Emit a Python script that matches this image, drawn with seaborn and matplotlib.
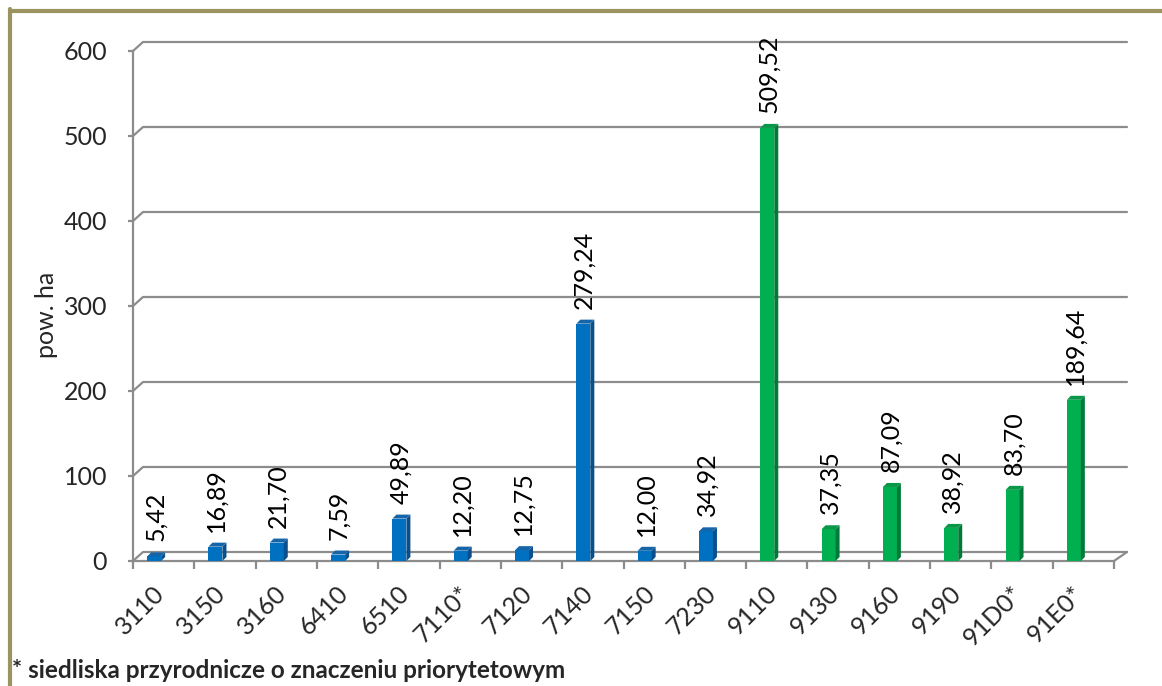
import pandas as pd
import seaborn as sns
import matplotlib.pyplot as plt
from matplotlib.patches import Polygon
from matplotlib.lines import Line2D
from matplotlib.transforms import IdentityTransform, ScaledTranslation

# --- data ---
codes = ["3110", "3150", "3160", "6410", "6510", "7110*", "7120", "7140",
         "7150", "7230", "9110", "9130", "9160", "9190", "91D0*", "91E0*"]
areas = [5.42, 16.89, 21.70, 7.59, 49.89, 12.20, 12.75, 279.24,
         12.00, 34.92, 509.52, 37.35, 87.09, 38.92, 83.70, 189.64]
groups = ["nieleśne"] * 10 + ["leśne"] * 6
y_ticks = [0, 100, 200, 300, 400, 500, 600]

front_col = {"nieleśne": "#0070C0", "leśne": "#00B050"}
side_col = {"nieleśne": "#0A4F8C", "leśne": "#007A38"}
top_col = {"nieleśne": "#1565A8", "leśne": "#0A9848"}
grid_col = "#8C8C8C"

df = pd.DataFrame({"code": codes, "area": areas, "group": groups})

sns.set_style("white")
plt.rcParams["font.family"] = ["Lato", "DejaVu Sans"]
fs = 18

W, H = 1162, 686
fig = plt.figure(figsize=(W / 100, H / 100), dpi=100)
x0, x1, y0, y1 = 133, 1114, 561, 51
ax = fig.add_axes([x0 / W, 1 - y0 / H, (x1 - x0) / W, (y0 - y1) / H])

sns.barplot(data=df, x="code", y="area", hue="group", palette=front_col,
            width=0.228, dodge=False, legend=False, saturation=1, ax=ax, zorder=3)
ax.set_xlim(-0.5, len(codes) - 0.5)
ax.set_ylim(0, 600)

# bars sit a bit left of category centre (3D depth)
for p in ax.patches:
    p.set_x(p.get_x() - 0.155)
    p.set_linewidth(0)

to_px = ax.transData.transform

# back wall gridlines
bdx_l, bdx_r, bdy = 10, 13, 9
for yv in y_ticks:
    (xl, yp), (xr, _) = to_px([(-0.5, yv), (len(codes) - 0.5, yv)])
    ax.add_line(Line2D([xl, xl + bdx_l, xr + bdx_r], [yp, yp + bdy, yp + bdy],
                       transform=IdentityTransform(), color=grid_col, lw=1.6,
                       clip_on=False, zorder=1))
(xr, yp) = to_px((len(codes) - 0.5, 0))
ax.add_line(Line2D([xr, xr + bdx_r], [yp, yp + bdy], transform=IdentityTransform(),
                   color=grid_col, lw=1.6, clip_on=False, zorder=1))

# side and top faces of bars + value labels
d = 4
for p, grp, val in zip(ax.patches, groups, areas):
    xa, xb = p.get_x(), p.get_x() + p.get_width()
    (Xa, Y0), (Xb, Yh) = to_px([(xa, 0), (xb, p.get_height())])
    ax.add_patch(Polygon([(Xb, Y0), (Xb, Yh), (Xb + d, Yh + d), (Xb + d, Y0 + d)],
                         closed=True, transform=IdentityTransform(),
                         facecolor=side_col[grp], lw=0, zorder=3, clip_on=False))
    ax.add_patch(Polygon([(Xa, Yh), (Xb, Yh), (Xb + d, Yh + d), (Xa + d, Yh + d)],
                         closed=True, transform=IdentityTransform(),
                         facecolor=top_col[grp], lw=0, zorder=3, clip_on=False))
    ax.annotate(f"{val:.2f}".replace(".", ","), ((xa + xb) / 2, val),
                xytext=(1, 15), textcoords="offset pixels", rotation=90,
                ha="center", va="bottom", fontsize=fs, color="black", zorder=5)

# axes styling
for s in ["top", "right"]:
    ax.spines[s].set_visible(False)
for s in ["left", "bottom"]:
    ax.spines[s].set_color(grid_col)
    ax.spines[s].set_linewidth(1.6)
    ax.spines[s].set_zorder(2)

ax.set_yticks(y_ticks)
ax.tick_params(axis="y", length=3.6, width=1.6, color=grid_col, pad=15,
               labelsize=fs, left=True)
ax.set_xticks(range(len(codes)))
ax.set_xticklabels(codes, rotation=45, ha="right")
ax.set_xticks([i - 0.5 for i in range(len(codes) + 1)], minor=True)
ax.tick_params(axis="x", which="major", length=0, pad=15, labelsize=fs)
ax.tick_params(axis="x", which="minor", length=6, width=1.6, color=grid_col,
               bottom=True)
shift = ScaledTranslation(0.05, 0, fig.dpi_scale_trans)
for lab in ax.get_xticklabels():
    lab.set_transform(lab.get_transform() + shift)
ax.set_xlabel("")
ax.set_ylabel("")

fig.text(46 / W, 1 - 315 / H, "pow. ha", rotation=90, ha="center", va="center",
         fontsize=fs)
fig.text(12 / W, 1 - 678 / H, "* siedliska przyrodnicze o znaczeniu priorytetowym",
         ha="left", va="baseline", fontsize=17.5, fontweight="bold")

# olive frame (top and left)
frame = "#9C9460"
fig.add_artist(Line2D([10 / W, 1], [1 - 10.8 / H, 1 - 10.8 / H], color=frame, lw=3,
                      transform=fig.transFigure))
fig.add_artist(Line2D([10 / W, 10 / W], [0, 1 - 9.3 / H], color=frame, lw=3,
                      transform=fig.transFigure))

fig.savefig("out.png", dpi=100)
